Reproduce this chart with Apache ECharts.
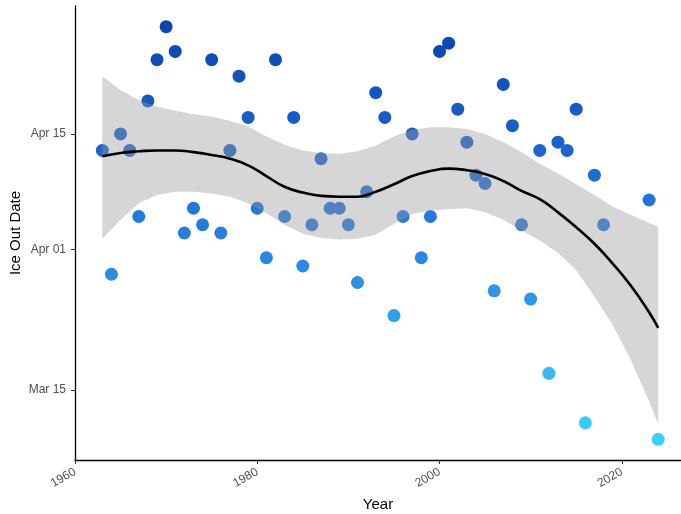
<!DOCTYPE html>
<html>
<head>
<meta charset="utf-8">
<script src="https://cdn.jsdelivr.net/npm/echarts@6/dist/echarts.min.js"></script>
<style>
html,body{margin:0;padding:0;background:#fff;}
#chart{width:681px;height:514px;}
</style>
</head>
<body>
<div id="chart"></div>
<script>
// ---- data ----
const years = [1963,1964,1965,1966,1967,1968,1969,1970,1971,1972,1973,1974,1975,1976,1977,1978,1979,1980,1981,1982,1983,1984,1985,1986,1987,1988,1989,1990,1991,1992,1993,1994,1995,1996,1997,1998,1999,2000,2001,2002,2003,2004,2005,2006,2007,2008,2009,2010,2011,2012,2013,2014,2015,2016,2017,2018,2023,2024];
const iceOutDates = ["Apr 13","Mar 29","Apr 15","Apr 13","Apr 05","Apr 19","Apr 24","Apr 28","Apr 25","Apr 03","Apr 06","Apr 04","Apr 24","Apr 03","Apr 13","Apr 22","Apr 17","Apr 06","Mar 31","Apr 24","Apr 05","Apr 17","Mar 30","Apr 04","Apr 12","Apr 06","Apr 06","Apr 04","Mar 28","Apr 08","Apr 20","Apr 17","Mar 24","Apr 05","Apr 15","Mar 31","Apr 05","Apr 25","Apr 26","Apr 18","Apr 14","Apr 10","Apr 09","Mar 27","Apr 21","Apr 16","Apr 04","Mar 26","Apr 13","Mar 17","Apr 14","Apr 13","Apr 18","Mar 11","Apr 10","Apr 04","Apr 07","Mar 09"];

// smooth fit (days after Mar 1) and its confidence band
const fitYears = [1963,1965,1967,1969,1971,1973,1975,1977,1979,1981,1983,1985,1987,1989,1991,1993,1995,1997,1999,2001,2003,2005,2007,2009,2011,2013,2015,2017,2019,2021,2023,2024];
const fitDay   = [42.3,42.7,42.9,43.0,43.0,42.8,42.45,42.0,41.2,39.9,38.6,37.9,37.5,37.4,37.4,38.0,38.9,39.9,40.5,40.8,40.6,40.15,39.3,38.1,37.1,35.5,33.7,31.7,29.3,26.6,23.4,21.5];
const bandHigh = [52.0,50.3,49.1,48.3,47.8,47.4,47.1,46.6,45.9,44.7,43.7,43.0,42.7,42.6,42.9,43.6,44.7,45.5,45.8,45.8,45.6,45.0,44.0,42.8,41.4,40.2,38.9,37.6,36.2,35.2,34.2,33.8];
const bandLow  = [32.3,34.6,36.6,37.6,38.0,38.0,37.8,37.4,36.6,35.4,34.0,32.9,32.4,32.2,32.3,32.8,34.1,35.3,35.7,35.9,36.0,35.5,34.6,33.3,32.1,30.6,28.5,25.3,21.9,17.6,12.6,9.9];

const xTicks = [1960,1980,2000,2020];
const yTickLabels = ["Mar 15","Apr 01","Apr 15"];

// ---- helpers ----
function dayOffset(s){ // days after Mar 1
  const [m,d] = s.split(" ");
  return (m === "Apr" ? 31 : 0) + parseInt(d,10) - 1;
}
const yTicks = yTickLabels.map(dayOffset);
const points = years.map((y,i)=>[y, dayOffset(iceOutDates[i])]);
const fitLine = fitYears.map((y,i)=>[y, fitDay[i]]);
const bandData = fitYears.map((y,i)=>[y, bandLow[i], bandHigh[i]]);

const chart = echarts.init(document.getElementById('chart'), null, {renderer:'canvas'});
const FONT = '"Liberation Sans", Arial, sans-serif';

chart.setOption({
  animation:false,
  backgroundColor:'#ffffff',
  grid:{left:75, right:0, top:6, bottom:54, containLabel:false, outerBoundsMode:'none'},
  xAxis:{
    type:'value', min:1960, max:2026.5,
    name:'Year', nameLocation:'middle', nameGap:37, nameMoveOverlap:false,
    nameTextStyle:{color:'#000', fontSize:15, fontFamily:FONT},
    axisLine:{show:true, onZero:false, lineStyle:{color:'#000', width:1.3}},
    axisTick:{show:true, length:4, customValues:xTicks, lineStyle:{color:'#333'}},
    axisLabel:{customValues:xTicks, rotate:30, margin:11, color:'#4d4d4d', fontSize:12, fontFamily:FONT,
      formatter:function(v){ return String(v); }},
    splitLine:{show:false}
  },
  yAxis:{
    type:'value', min:5.5, max:60.5,
    name:'Ice Out Date', nameLocation:'middle', nameGap:52, nameMoveOverlap:false,
    nameTextStyle:{color:'#000', fontSize:15, fontFamily:FONT},
    axisLine:{show:true, onZero:false, lineStyle:{color:'#000', width:1.3}},
    axisTick:{show:true, length:4, customValues:yTicks, lineStyle:{color:'#333'}},
    axisLabel:{customValues:yTicks, margin:9, color:'#4d4d4d', fontSize:12, fontFamily:FONT,
      formatter:function(v){ const i = yTicks.indexOf(v); return i>=0 ? yTickLabels[i] : ''; }},
    splitLine:{show:false}
  },
  visualMap:{
    show:false, type:'continuous', seriesIndex:0, dimension:1,
    min:8, max:58,
    inRange:{color:['#3ccfff','#34b2f8','#2b8ce6','#2270d8','#155ac5','#0a45b0']}
  },
  series:[
    {
      type:'scatter', data:points, symbolSize:13, z:2,
      itemStyle:{opacity:1}
    },
    {
      type:'custom', z:3, silent:true,
      data:bandData,
      renderItem:function(params, api){
        if(params.dataIndex !== 0) return null;
        const pts = [];
        for(let i=0;i<fitYears.length;i++) pts.push(api.coord([fitYears[i], bandHigh[i]]));
        for(let i=fitYears.length-1;i>=0;i--) pts.push(api.coord([fitYears[i], bandLow[i]]));
        return {type:'polygon', shape:{points:pts}, style:{fill:'rgba(153,153,153,0.4)', stroke:null}};
      }
    },
    {
      type:'line', data:fitLine, smooth:true, showSymbol:false, z:4,
      lineStyle:{color:'#000', width:2.6}
    }
  ]
});
</script>
</body>
</html>
